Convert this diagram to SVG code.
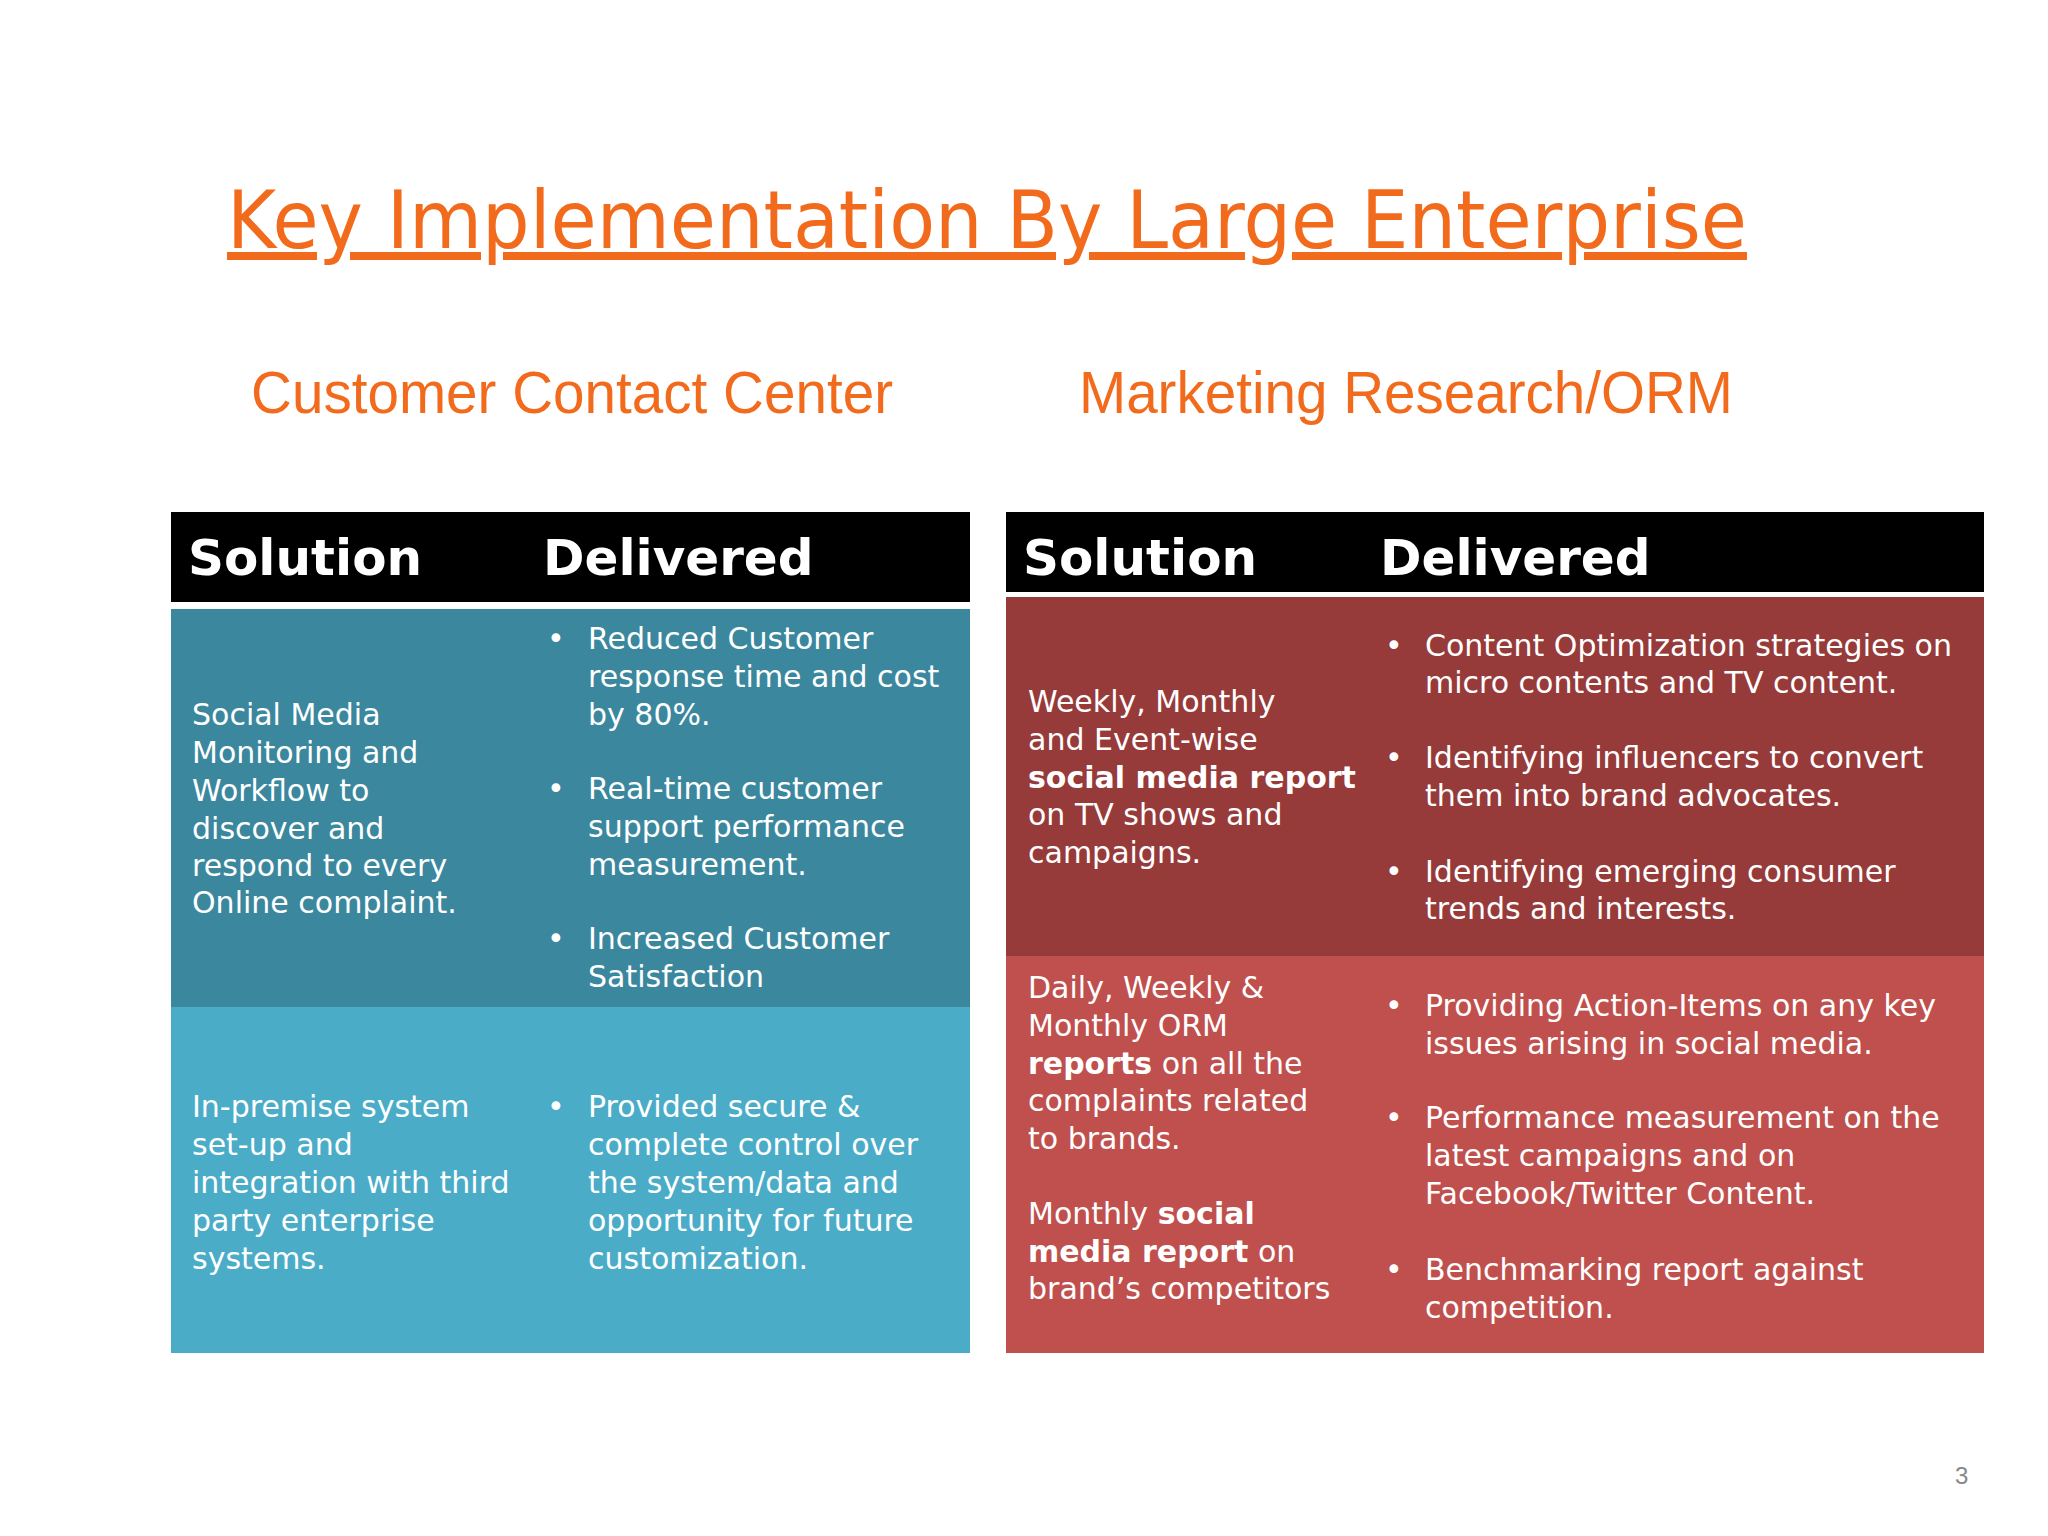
<svg xmlns="http://www.w3.org/2000/svg" width="2048" height="1536" viewBox="0 0 2048 1536">
<style>
.t{font-family:"DejaVu Sans","Open Sans",sans-serif;font-size:30px;fill:#fff}
.h{font-family:"DejaVu Sans",sans-serif;font-size:50px;font-weight:bold;fill:#fff}
.s{font-family:"Liberation Sans",Arial,sans-serif;font-size:60px;fill:#F26B1D}
b,.b{font-weight:bold}
</style>
<rect width="2048" height="1536" fill="#fff"/>
<text x="227" y="248" font-family="'DejaVu Sans',sans-serif" font-size="80" fill="#F26B1D" text-decoration="underline" textLength="1520" lengthAdjust="spacingAndGlyphs">Key Implementation By Large Enterprise</text>
<text class="s" x="251" y="413" textLength="642" lengthAdjust="spacingAndGlyphs">Customer Contact Center</text>
<text class="s" x="1079" y="413" textLength="654" lengthAdjust="spacingAndGlyphs">Marketing Research/ORM</text>
<g id="left-table">
<rect x="171" y="512" width="799" height="90" fill="#000"/>
<rect x="171" y="609" width="799" height="398" fill="#3B879E"/>
<rect x="171" y="1007" width="799" height="346" fill="#4BACC8"/>
<text class="h" x="188" y="575">Solution</text>
<text class="h" x="543" y="575">Delivered</text>
<text class="t" x="192" y="725">Social Media<tspan x="192" dy="38">Monitoring and</tspan><tspan x="192" dy="38">Workflow to</tspan><tspan x="192" dy="38">discover and</tspan><tspan x="192" dy="37">respond to every</tspan><tspan x="192" dy="37">Online complaint.</tspan></text>
<g class="t">
<text class="t" x="547" y="649">•</text><text class="t" x="588" y="649">Reduced Customer<tspan x="588" dy="38">response time and cost</tspan><tspan x="588" dy="38">by 80%.</tspan></text>
<text class="t" x="547" y="799">•</text><text class="t" x="588" y="799">Real-time customer<tspan x="588" dy="38">support performance</tspan><tspan x="588" dy="38">measurement.</tspan></text>
<text class="t" x="547" y="949">•</text><text class="t" x="588" y="949">Increased Customer<tspan x="588" dy="38">Satisfaction</tspan></text>
</g>
<text class="t" x="192" y="1117">In-premise system<tspan x="192" dy="38">set-up and</tspan><tspan x="192" dy="38">integration with third</tspan><tspan x="192" dy="38">party enterprise</tspan><tspan x="192" dy="38">systems.</tspan></text>
<text class="t" x="547" y="1117">•</text><text class="t" x="588" y="1117">Provided secure &amp;<tspan x="588" dy="38">complete control over</tspan><tspan x="588" dy="38">the system/data and</tspan><tspan x="588" dy="38">opportunity for future</tspan><tspan x="588" dy="38">customization.</tspan></text>
</g>
<g id="right-table">
<rect x="1006" y="512" width="978" height="80" fill="#000"/>
<rect x="1006" y="597" width="978" height="359" fill="#973A3A"/>
<rect x="1006" y="956" width="978" height="397" fill="#C0504D"/>
<text class="h" x="1023" y="575">Solution</text>
<text class="h" x="1380" y="575">Delivered</text>
<text class="t" x="1028" y="712">Weekly, Monthly<tspan x="1028" dy="38">and Event-wise</tspan><tspan x="1028" dy="38" font-weight="bold">social media report</tspan><tspan x="1028" dy="37">on TV shows and</tspan><tspan x="1028" dy="38">campaigns.</tspan></text>
<text class="t" x="1385" y="656">•</text><text class="t" x="1425" y="656">Content Optimization strategies on<tspan x="1425" dy="37">micro contents and TV content.</tspan></text>
<text class="t" x="1385" y="768">•</text><text class="t" x="1425" y="768">Identifying influencers to convert<tspan x="1425" dy="38">them into brand advocates.</tspan></text>
<text class="t" x="1385" y="882">•</text><text class="t" x="1425" y="882">Identifying emerging consumer<tspan x="1425" dy="37">trends and interests.</tspan></text>
<text class="t" x="1028" y="998">Daily, Weekly &amp;<tspan x="1028" dy="38">Monthly ORM</tspan><tspan x="1028" dy="38"><tspan font-weight="bold">reports</tspan> on all the</tspan><tspan x="1028" dy="37">complaints related</tspan><tspan x="1028" dy="38">to brands.</tspan><tspan x="1028" dy="75">Monthly <tspan font-weight="bold">social</tspan></tspan><tspan x="1028" dy="38"><tspan font-weight="bold">media report</tspan> on</tspan><tspan x="1028" dy="37">brand’s competitors</tspan></text>
<text class="t" x="1385" y="1016">•</text><text class="t" x="1425" y="1016">Providing Action-Items on any key<tspan x="1425" dy="38">issues arising in social media.</tspan></text>
<text class="t" x="1385" y="1128">•</text><text class="t" x="1425" y="1128">Performance measurement on the<tspan x="1425" dy="38">latest campaigns and  on</tspan><tspan x="1425" dy="38">Facebook/Twitter Content.</tspan></text>
<text class="t" x="1385" y="1280">•</text><text class="t" x="1425" y="1280">Benchmarking report against<tspan x="1425" dy="38">competition.</tspan></text>
</g>
<text x="1955" y="1484" font-family="'Liberation Sans',sans-serif" font-size="24" fill="#888">3</text>
</svg>
